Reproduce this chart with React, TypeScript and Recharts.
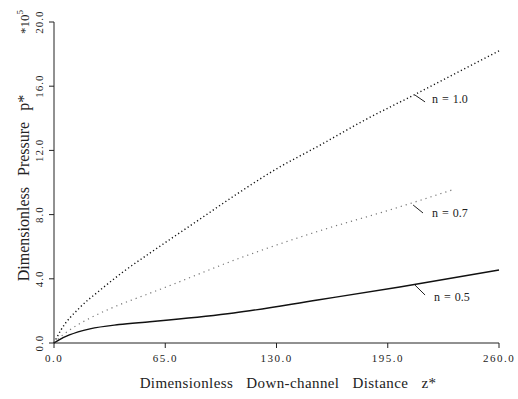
import {
  Label,
  Line,
  LineChart,
  ReferenceDot,
  ReferenceLine,
  XAxis,
  YAxis,
} from "recharts";

// dimensionless down-channel distance z* and pressure p* (x 10^5) per power-law index n
const curveN10 = [
  { z: 0, p: 0 },
  { z: 4, p: 0.8 },
  { z: 15, p: 2.2 },
  { z: 27, p: 3.3 },
  { z: 40, p: 4.4 },
  { z: 56, p: 5.6 },
  { z: 67, p: 6.4 },
  { z: 85, p: 7.7 },
  { z: 105, p: 9.15 },
  { z: 130, p: 10.85 },
  { z: 155, p: 12.3 },
  { z: 180, p: 13.8 },
  { z: 213, p: 15.6 },
  { z: 240, p: 17.1 },
  { z: 260, p: 18.2 },
];

const curveN07 = [
  { z: 0, p: 0 },
  { z: 4, p: 0.4 },
  { z: 9, p: 0.8 },
  { z: 21, p: 1.55 },
  { z: 33, p: 2.15 },
  { z: 56, p: 3.1 },
  { z: 67, p: 3.55 },
  { z: 105, p: 5.15 },
  { z: 154, p: 6.95 },
  { z: 198, p: 8.35 },
  { z: 233, p: 9.55 },
];

const curveN05 = [
  { z: 0, p: 0 },
  { z: 3, p: 0.2 },
  { z: 9, p: 0.5 },
  { z: 21, p: 0.88 },
  { z: 38, p: 1.15 },
  { z: 56, p: 1.32 },
  { z: 67, p: 1.43 },
  { z: 105, p: 1.87 },
  { z: 154, p: 2.68 },
  { z: 202, p: 3.49 },
  { z: 260, p: 4.55 },
];

const zTicks = [0, 65, 130, 195, 260];
const pTicks = [0, 4, 8, 12, 16, 20];

// curve labels: leader start (on curve), leader end, text anchor
const curveLabels = [
  { text: "n = 1.0", z1: 210.9, p1: 15.45, z2: 216.8, p2: 15.02, tz: 220.9, tp: 15.2 },
  { text: "n = 0.7", z1: 209.8, p1: 8.6, z2: 215.6, p2: 8.1, tz: 220.9, tp: 8.1 },
  { text: "n = 0.5", z1: 210.9, p1: 3.61, z2: 216.8, p2: 2.99, tz: 222, tp: 2.87 },
];

const FONT = "'Liberation Serif', 'Times New Roman', 'DejaVu Serif', serif";
const INK = "#222";

const PressureTick = (props: any) => {
  const { x, y, payload } = props;
  return (
    <text
      transform={`translate(${x - 4},${y}) rotate(-90)`}
      textAnchor="middle"
      style={{ fontFamily: FONT, fontSize: 11, letterSpacing: 1 }}
      fill={INK}
    >
      {Number(payload.value).toFixed(1)}
    </text>
  );
};

const DistanceTick = (props: any) => {
  const { x, y, payload } = props;
  return (
    <text
      x={x}
      y={y + 12}
      textAnchor="middle"
      style={{ fontFamily: FONT, fontSize: 11, letterSpacing: 1.5 }}
      fill={INK}
    >
      {Number(payload.value).toFixed(1)}
    </text>
  );
};

const PressureTitle = () => (
  <g style={{ fontFamily: FONT }} fill={INK}>
    <text
      transform="translate(29,188) rotate(-90)"
      textAnchor="middle"
      style={{ fontSize: 16, wordSpacing: 7 }}
    >
      Dimensionless Pressure p*
    </text>
    <text transform="translate(29,34) rotate(-90)" style={{ fontSize: 13 }}>
      *10
      <tspan fontSize={9} dy={-6}>
        5
      </tspan>
    </text>
  </g>
);

const DistanceTitle = () => (
  <text
    x={288}
    y={388}
    textAnchor="middle"
    style={{ fontFamily: FONT, fontSize: 15, letterSpacing: 0.4, wordSpacing: 9 }}
    fill={INK}
  >
    Dimensionless Down-channel Distance z*
  </text>
);

const CurveText = (props: any) => {
  const { viewBox, value } = props;
  return (
    <text
      x={viewBox.x}
      y={viewBox.y + 4}
      style={{ fontFamily: FONT, fontSize: 12, wordSpacing: 1 }}
      fill={INK}
    >
      {value}
    </text>
  );
};

export default function App() {
  return (
    <div style={{ position: "absolute", left: 0, top: 0, background: "#fff" }}>
      <LineChart
        width={518}
        height={399}
        margin={{ top: 22, right: 19, bottom: 0, left: 0 }}
      >
        <XAxis
          dataKey="z"
          type="number"
          domain={[0, 260]}
          ticks={zTicks}
          height={56}
          tickSize={5}
          stroke={INK}
          tick={<DistanceTick />}
          allowDuplicatedCategory={false}
        >
          <Label content={<DistanceTitle />} />
        </XAxis>
        <YAxis
          dataKey="p"
          type="number"
          domain={[0, 20]}
          ticks={pTicks}
          width={54}
          tickSize={5}
          stroke={INK}
          tick={<PressureTick />}
        >
          <Label content={<PressureTitle />} />
        </YAxis>
        <Line
          data={curveN10}
          dataKey="p"
          type="monotone"
          stroke="#111"
          strokeWidth={1.4}
          strokeDasharray="1.2 2.6"
          dot={false}
          isAnimationActive={false}
        />
        <Line
          data={curveN07}
          dataKey="p"
          type="monotone"
          stroke="#777"
          strokeWidth={1.2}
          strokeDasharray="1.2 4"
          dot={false}
          isAnimationActive={false}
        />
        <Line
          data={curveN05}
          dataKey="p"
          type="monotone"
          stroke="#111"
          strokeWidth={1.4}
          dot={false}
          isAnimationActive={false}
        />
        {curveLabels.map((c) => (
          <ReferenceLine
            key={`lead-${c.text}`}
            segment={[
              { x: c.z1, y: c.p1 },
              { x: c.z2, y: c.p2 },
            ]}
            stroke={INK}
            strokeWidth={1}
          />
        ))}
        {curveLabels.map((c) => (
          <ReferenceDot
            key={`txt-${c.text}`}
            x={c.tz}
            y={c.tp}
            r={0.01}
            fill="none"
            stroke="none"
            label={<CurveText value={c.text} />}
          />
        ))}
      </LineChart>
    </div>
  );
}
